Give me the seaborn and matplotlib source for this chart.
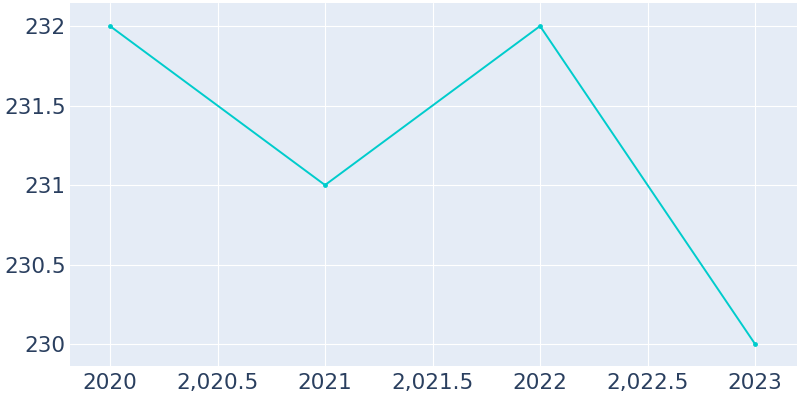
import pandas as pd
import matplotlib.pyplot as plt
import matplotlib.ticker as mticker
import seaborn as sns

# Datos
years = [2020, 2021, 2022, 2023]
values = [232, 231, 232, 230]

df = pd.DataFrame({'year': years, 'value': values})

sns.set_style('darkgrid', {'axes.facecolor': '#E5ECF6', 'grid.color': 'white'})
plt.rcParams['font.family'] = ['DejaVu Sans']

fig = plt.figure(figsize=(8, 4), dpi=100)
ax = fig.add_axes([0.0875, 0.085, 0.90875, 0.9075])
sns.lineplot(x='year', y='value', data=df, ax=ax, color='#00CCCC',
             marker='o', markersize=3.5, markeredgewidth=0, linewidth=1.4)

ax.set_xlim(2019.814, 2023.195)
ax.set_ylim(229.862, 232.145)
ax.xaxis.set_major_locator(mticker.MultipleLocator(0.5))
ax.yaxis.set_major_locator(mticker.MultipleLocator(0.5))

def fmt(v, pos):
    if abs(v - round(v)) < 1e-9:
        return f'{int(round(v))}'
    return f'{v:,.1f}'

def fmt_y(v, pos):
    if abs(v - round(v)) < 1e-9:
        return f'{int(round(v))}'
    return f'{v:.1f}'

ax.xaxis.set_major_formatter(mticker.FuncFormatter(fmt))
ax.yaxis.set_major_formatter(mticker.FuncFormatter(fmt_y))
ax.tick_params(axis='both', labelsize=15.5, colors='#2a3f5f', length=0)
ax.tick_params(axis='x', pad=5)
ax.tick_params(axis='y', pad=3)
ax.set_xlabel('')
ax.set_ylabel('')
for s in ax.spines.values():
    s.set_visible(False)

plt.savefig('out.png', dpi=100)
